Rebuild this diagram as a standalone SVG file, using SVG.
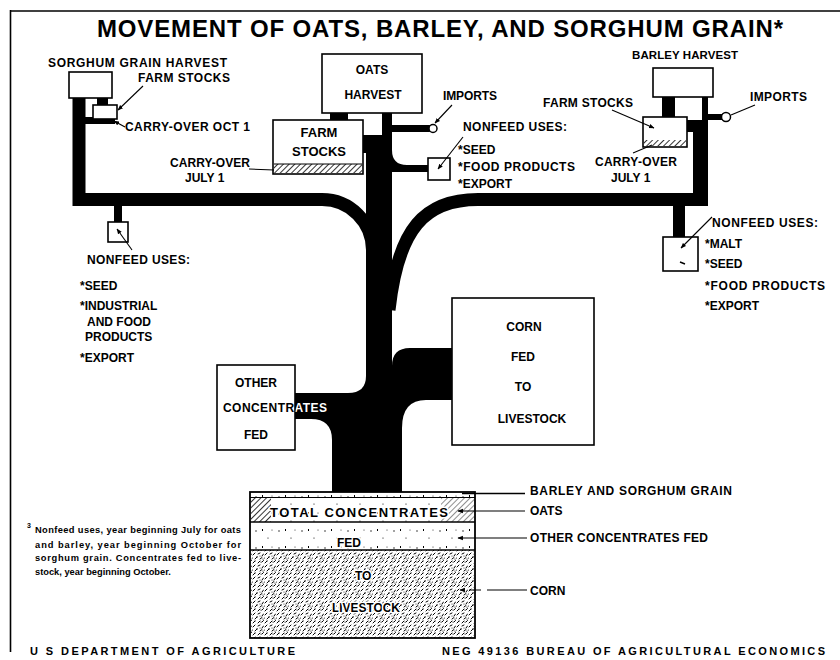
<svg xmlns="http://www.w3.org/2000/svg" width="840" height="660" viewBox="0 0 840 660">
<defs>
<style>
text{font-family:"Liberation Sans",Arial,sans-serif;font-weight:bold;fill:#000}
.s12{font-size:12px}
.s11{font-size:11.5px}
.s13{font-size:13px}
.mid{text-anchor:middle}
.box{fill:#fff;stroke:#000;stroke-width:1.6}
.flow{fill:#000}
.band{fill:none;stroke:#000;stroke-width:13}
.lead{fill:none;stroke:#000;stroke-width:1.1}
.halo{stroke:#fff;stroke-width:3;paint-order:stroke;stroke-linejoin:round}
.foot{font-size:9.3px}
</style>
<marker id="ah" viewBox="0 0 10 10" refX="9" refY="5" markerWidth="5" markerHeight="5" orient="auto"><path d="M0,1 L10,5 L0,9 z" fill="#000"/></marker>
<pattern id="hatch" width="4" height="4" patternUnits="userSpaceOnUse" patternTransform="rotate(45)"><line x1="0" y1="0" x2="0" y2="4" stroke="#000" stroke-width="1.6"/></pattern>
<pattern id="speck" width="23" height="17" patternUnits="userSpaceOnUse"><circle cx="3" cy="4" r="0.7"/><circle cx="15" cy="11" r="0.6"/><rect x="9" y="2" width="1" height="2"/><circle cx="19" cy="3" r="0.5"/></pattern>
<pattern id="stipple" width="12" height="12" patternUnits="userSpaceOnUse">
<g stroke="#000" stroke-width="1" stroke-linecap="round">
<path d="M1 3 l2 -2 M6 2 l2 -1 M10 4 l1.5 -2 M3 7 l2 -2 M8 7 l2 -1.5 M1 11 l2 -2 M6 11 l2 -2 M10 10 l1.5 -1.5"/>
</g>
<circle cx="5" cy="5" r="0.7"/><circle cx="11" cy="7" r="0.6"/><circle cx="3" cy="9" r="0.6"/><circle cx="8" cy="4" r="0.5"/><circle cx="9" cy="10" r="0.6"/><circle cx="0.5" cy="6" r="0.5"/>
</pattern>
<clipPath id="rightOfBox"><rect x="295.5" y="395" width="60" height="22"/></clipPath>
</defs>
<rect width="840" height="660" fill="#fff"/>
<g id="frame" fill="none" stroke="#000">
<line x1="10.5" y1="10" x2="10.5" y2="652" stroke-width="1.6"/>
<line x1="10" y1="11" x2="840" y2="11" stroke-width="1.6"/>
</g>
<g id="title"><text x="97" y="37" font-size="24" textLength="686">MOVEMENT OF OATS, BARLEY, AND SORGHUM GRAIN*</text></g>

<g id="flows">
<path class="band" d="M79 97 V199.5 H322 A50.5 50.5 0 0 1 372.5 250 V300"/>
<rect class="flow" x="97" y="97" width="11" height="9"/>
<rect class="flow" x="85" y="117" width="30" height="7"/>
<rect class="flow" x="114" y="205" width="8" height="18"/>
<rect class="flow" x="382" y="112" width="10" height="25"/>
<rect class="flow" x="330" y="112" width="18" height="9"/>
<rect class="flow" x="362" y="135" width="30" height="18"/>
<rect class="flow" x="366" y="135" width="26" height="362"/>
<rect class="flow" x="391" y="125" width="39" height="7"/>
<path class="flow" d="M392 150 Q392 165 407 165 H429 V172 H392 Z"/>
<rect class="flow" x="702" y="96" width="6" height="30"/>
<rect class="flow" x="693" y="120" width="15" height="86"/>
<rect class="flow" x="686" y="120" width="10" height="12"/>
<rect class="flow" x="662" y="96" width="13" height="22"/>
<rect class="flow" x="707" y="114" width="15" height="6"/>
<path class="band" d="M700 199.5 H478 C425 199.5 398 228 389 310"/>
<rect class="flow" x="673" y="204" width="12" height="34"/>
<path class="flow" d="M294 393 H348 Q366 393 366 376 V497 H332 V440 Q332 419 311 419 H294 Z"/>
<path class="flow" d="M453 348 H410 Q392 348 392 366 V497 H402 V428 Q402 400 426 400 H453 Z"/>
<circle cx="433" cy="128.5" r="4" fill="#fff" stroke="#000" stroke-width="1.5"/>
<circle cx="726" cy="117" r="4.5" fill="#fff" stroke="#000" stroke-width="1.5"/>
</g>

<g id="sorghum-harvest">
<text class="s12" x="48" y="67" textLength="179">SORGHUM GRAIN HARVEST</text>
<rect class="box" x="69" y="72" width="43" height="26"/>
</g>
<g id="sorghum-farm-stocks">
<rect class="box" x="93" y="105" width="24" height="14"/>
<text class="s12" x="138" y="82" textLength="92">FARM STOCKS</text>
<text class="s12" x="125" y="131" textLength="125">CARRY-OVER OCT 1</text>
</g>
<g id="sorghum-nonfeed">
<rect class="box" x="108" y="222" width="20" height="20"/>
<text class="s12" x="87" y="264" textLength="103">NONFEED USES:</text>
<text class="s12" x="80" y="290">*SEED</text>
<text class="s12" x="80" y="310">*INDUSTRIAL</text>
<text class="s12" x="87" y="326">AND FOOD</text>
<text class="s12" x="85" y="341">PRODUCTS</text>
<text class="s12" x="80" y="362">*EXPORT</text>
</g>

<g id="oats-harvest">
<rect class="box" x="322" y="54" width="100" height="59"/>
<text class="s12 mid" x="372" y="74">OATS</text>
<text class="s12 mid" x="373" y="99">HARVEST</text>
</g>
<g id="oats-farm-stocks">
<rect class="box" x="273" y="120" width="90" height="54"/>
<rect x="274" y="164" width="88" height="9" fill="url(#hatch)"/>
<line x1="274" y1="164" x2="362" y2="164" stroke="#000" stroke-width="1"/>
<text class="s13 mid" x="319" y="137">FARM</text>
<text class="s13 mid" x="319" y="156">STOCKS</text>
<text class="s12" x="170" y="167" textLength="80">CARRY-OVER</text>
<text class="s12" x="185" y="182">JULY 1</text>
</g>
<g id="oats-imports">
<text class="s12" x="443" y="100" textLength="54">IMPORTS</text>
</g>
<g id="oats-nonfeed">
<rect class="box" x="428" y="158" width="22" height="22"/>
<text class="s12" x="463" y="131" textLength="104">NONFEED USES:</text>
<text class="s12" x="458" y="154">*SEED</text>
<text class="s12" x="458" y="171" textLength="117">*FOOD PRODUCTS</text>
<text class="s12" x="458" y="188">*EXPORT</text>
</g>

<g id="barley-harvest">
<text class="s11" x="632" y="59" textLength="106">BARLEY HARVEST</text>
<rect class="box" x="653" y="68" width="60" height="29"/>
</g>
<g id="barley-farm-stocks">
<rect class="box" x="643" y="117" width="44" height="30"/>
<rect x="644" y="140" width="42" height="6" fill="url(#hatch)"/>
<text class="s12" x="543" y="107" textLength="90">FARM STOCKS</text>
<text class="s12" x="595" y="166" textLength="82">CARRY-OVER</text>
<text class="s12" x="611" y="182">JULY 1</text>
</g>
<g id="barley-imports">
<text class="s12" x="750" y="101" textLength="57">IMPORTS</text>
</g>
<g id="barley-nonfeed">
<rect class="box" x="663" y="237" width="35" height="34"/>
<line x1="680" y1="262" x2="685" y2="264" stroke="#000" stroke-width="1.5"/>
<text class="s12" x="712" y="227" textLength="106">NONFEED USES:</text>
<text class="s12" x="705" y="248">*MALT</text>
<text class="s12" x="705" y="268">*SEED</text>
<text class="s12" x="705" y="290" textLength="120">*FOOD PRODUCTS</text>
<text class="s12" x="705" y="310">*EXPORT</text>
</g>

<g id="other-concentrates">
<rect class="box" x="217" y="365" width="78" height="85"/>
<text class="s12 mid" x="256" y="387">OTHER</text>
<text class="s12" x="223" y="412" textLength="104">CONCENTRATES</text>
<text class="s12" x="223" y="412" textLength="104" style="fill:#fff" clip-path="url(#rightOfBox)">CONCENTRATES</text>
<text class="s12 mid" x="256" y="439">FED</text>
</g>

<g id="corn">
<rect class="box" x="452" y="298" width="142" height="147"/>
<text class="s12 mid" x="524" y="331">CORN</text>
<text class="s12 mid" x="523" y="361">FED</text>
<text class="s12 mid" x="523" y="391">TO</text>
<text class="s12 mid" x="532" y="423">LIVESTOCK</text>
</g>

<g id="total-concentrates">
<rect x="250" y="492" width="225" height="146" fill="#fff"/>
<rect x="251" y="492" width="223" height="6" fill="url(#speck)"/>
<rect x="251" y="498" width="20" height="24" fill="url(#hatch)"/>
<rect x="271" y="498" width="170" height="24" fill="url(#speck)"/>
<rect x="441" y="498" width="33" height="24" fill="url(#hatch)" opacity="0.55"/>
<rect x="251" y="522" width="223" height="28" fill="url(#speck)"/>
<rect x="251" y="550" width="223" height="88" fill="url(#stipple)"/>
<rect x="250" y="492" width="225" height="146" fill="none" stroke="#000" stroke-width="1.8"/>
<line x1="250" y1="497.5" x2="475" y2="497.5" stroke="#000" stroke-width="1"/>
<line x1="250" y1="522" x2="475" y2="522" stroke="#000" stroke-width="1.4"/>
<line x1="250" y1="550" x2="475" y2="550" stroke="#000" stroke-width="1.4"/>
<text class="s13 halo" x="270" y="517" textLength="178">TOTAL CONCENTRATES</text>
<text class="s12 halo" x="337" y="547">FED</text>
<text class="s12 halo" x="355" y="580">TO</text>
<text class="s12 halo" x="332" y="612" textLength="68">LIVESTOCK</text>
</g>

<g id="legend">
<text class="s12" x="530" y="495" textLength="202">BARLEY AND SORGHUM GRAIN</text>
<text class="s12" x="530" y="515">OATS</text>
<text class="s12" x="530" y="542" textLength="178">OTHER CONCENTRATES FED</text>
<text class="s12" x="530" y="595">CORN</text>
</g>

<g id="leaders" class="lead">
<path d="M143 86 L118 110" marker-end="url(#ah)"/>
<path d="M125 127 L114 121" marker-end="url(#ah)"/>
<path d="M249 169 L274 170"/>
<path d="M452 105 L435 123" marker-end="url(#ah)"/>
<path d="M463 137 L438 169" marker-end="url(#ah)"/>
<path d="M612 110 L654 128" marker-end="url(#ah)"/>
<path d="M633 153 L652 145"/>
<path d="M755 105 L731 115"/>
<path d="M712 217 L681 248" marker-end="url(#ah)"/>
<path d="M132 250 L117 229" marker-end="url(#ah)"/>
<path d="M462 493.5 H525" stroke-width="1.4"/>
<path d="M525 511 H458" marker-end="url(#ah)"/>
<path d="M527 538 H458" marker-end="url(#ah)"/>
<path d="M527 590 H460" stroke-dasharray="40 6 12 6 10" marker-end="url(#ah)"/>
</g>

<g id="footnote">
<text x="27" y="528" font-size="7">3</text>
<text class="foot" x="35" y="533" textLength="206">Nonfeed uses, year beginning July for oats</text>
<text class="foot" x="35" y="548" textLength="206">and barley, year beginning October for</text>
<text class="foot" x="35" y="561" textLength="206">sorghum grain. Concentrates fed to live-</text>
<text class="foot" x="35" y="575">stock, year beginning October.</text>
</g>

<g id="footer">
<text x="30" y="655" font-size="11" textLength="265">U S DEPARTMENT OF AGRICULTURE</text>
<text x="442" y="655" font-size="11" textLength="383">NEG 49136 BUREAU OF AGRICULTURAL ECONOMICS</text>
</g>
</svg>
